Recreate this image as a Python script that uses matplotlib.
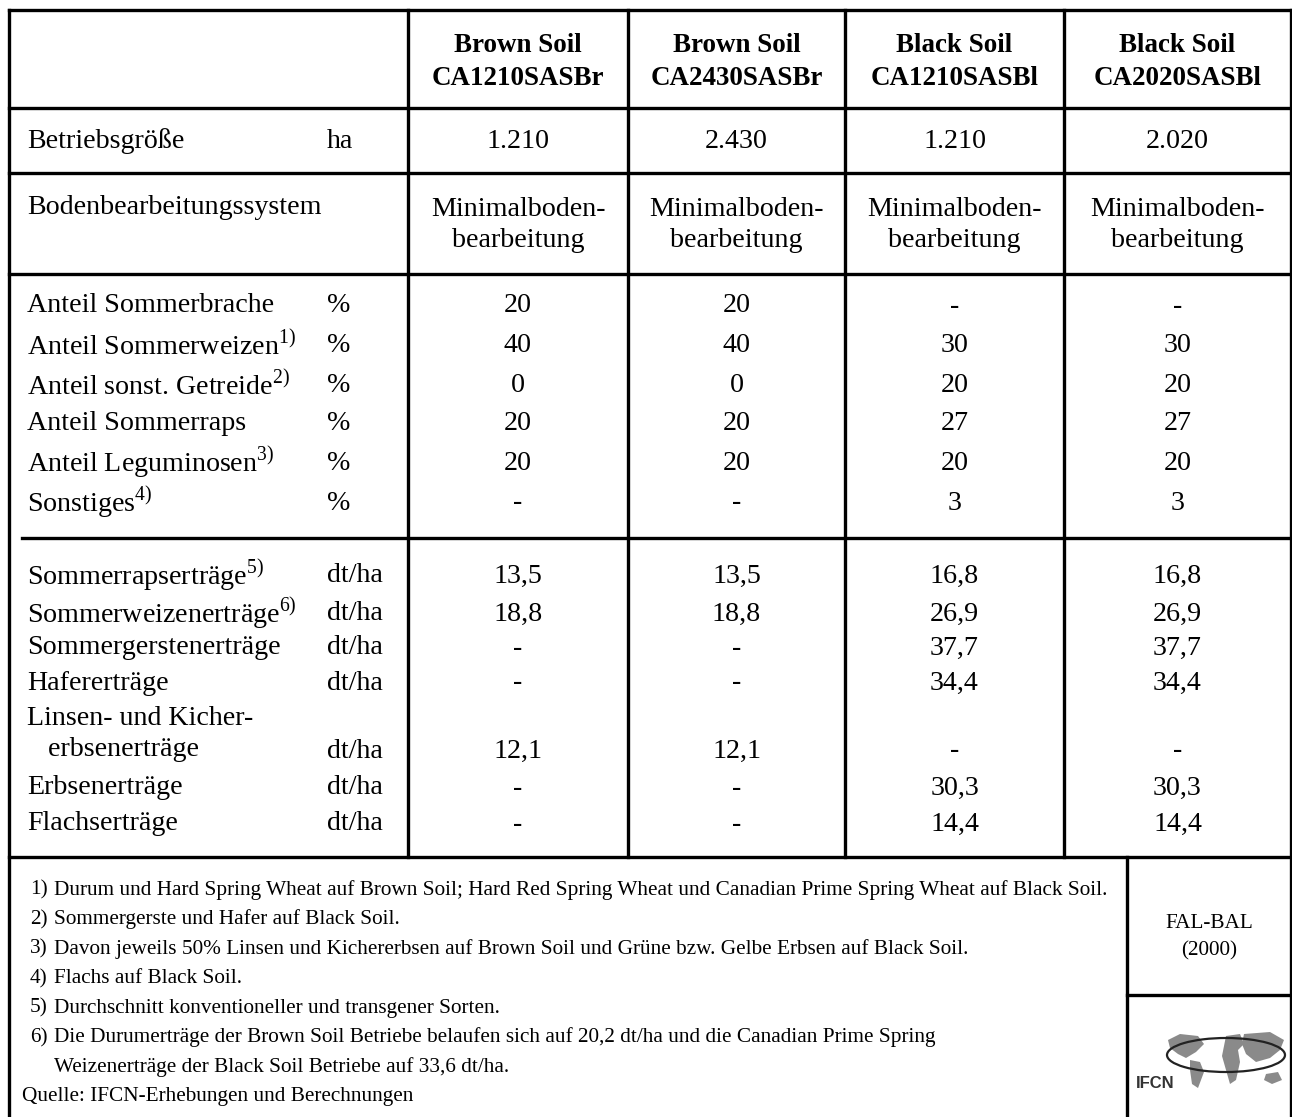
import matplotlib
matplotlib.use("Agg")
import matplotlib.pyplot as plt
from matplotlib.patches import Polygon, Arc

plt.rcParams['font.family'] = ['Liberation Serif', 'DejaVu Serif']
plt.rcParams['mathtext.fontset'] = 'custom'
plt.rcParams['mathtext.rm'] = 'Liberation Serif'

# === table content ===
col_heads = ["Brown Soil\nCA1210SASBr", "Brown Soil\nCA2430SASBr",
             "Black Soil\nCA1210SASBl", "Black Soil\nCA2020SASBl"]
groesse = ["1.210", "2.430", "1.210", "2.020"]
system = ["Minimalboden-\nbearbeitung"] * 4

share_labels = ["Anteil Sommerbrache", r"Anteil Sommerweizen$^{\mathrm{1)}}$",
                r"Anteil sonst. Getreide$^{\mathrm{2)}}$", "Anteil Sommerraps",
                r"Anteil Leguminosen$^{\mathrm{3)}}$", r"Sonstiges$^{\mathrm{4)}}$"]
share_values = [["20", "20", "-", "-"],
                ["40", "40", "30", "30"],
                ["0", "0", "20", "20"],
                ["20", "20", "27", "27"],
                ["20", "20", "20", "20"],
                ["-", "-", "3", "3"]]

yield_labels = [r"Sommerrapserträge$^{\mathrm{5)}}$", r"Sommerweizenerträge$^{\mathrm{6)}}$",
                "Sommergerstenerträge", "Hafererträge",
                "Linsen- und Kicher-\n   erbsenerträge", "Erbsenerträge", "Flachserträge"]
yield_values = [["13,5", "13,5", "16,8", "16,8"],
                ["18,8", "18,8", "26,9", "26,9"],
                ["-", "-", "37,7", "37,7"],
                ["-", "-", "34,4", "34,4"],
                ["12,1", "12,1", "-", "-"],
                ["-", "-", "30,3", "30,3"],
                ["-", "-", "14,4", "14,4"]]

notes = ["Durum und Hard Spring Wheat auf Brown Soil; Hard Red Spring Wheat und Canadian Prime Spring Wheat auf Black Soil.",
         "Sommergerste und Hafer auf Black Soil.",
         "Davon jeweils 50% Linsen und Kichererbsen auf Brown Soil und Grüne bzw. Gelbe Erbsen auf Black Soil.",
         "Flachs auf Black Soil.",
         "Durchschnitt konventioneller und transgener Sorten.",
         "Die Durumerträge der Brown Soil Betriebe belaufen sich auf 20,2 dt/ha und die Canadian Prime Spring\nWeizenerträge der Black Soil Betriebe auf 33,6 dt/ha."]
source = "Quelle: IFCN-Erhebungen und Berechnungen"
stamp = "FAL-BAL\n(2000)"

# === layout (pixel units) ===
W, H = 1292, 1117
fig = plt.figure(figsize=(W / 100, H / 100), dpi=100)
ax = fig.add_axes([0, 0, 1, 1])
ax.set_xlim(0, W)
ax.set_ylim(H, 0)
ax.axis("off")

fs = 28 * 0.72       # main text
fs_head = 27 * 0.72
fs_note = 21.3 * 0.72
lw = 2.4
col_x = [408, 628, 845, 1064, 1291]
col_c = [(col_x[i] + col_x[i + 1]) / 2 for i in range(4)]


def hline(y, x0, x1):
    ax.plot([x0, x1], [y, y], color="k", lw=lw, solid_capstyle="projecting")


def vline(x, y0, y1):
    ax.plot([x, x], [y0, y1], color="k", lw=lw, solid_capstyle="projecting")


# grid
hline(10, 9, W - 1)
hline(108, 9, W - 1)
hline(173, 9, W - 1)
hline(274, 9, W - 1)
hline(538, 22, W - 1)
hline(857, 9, W - 1)
hline(995, 1127, W - 1)
vline(9, 10, H)
vline(W - 1, 10, H)
for x in col_x[:-1]:
    vline(x, 10, 857)
vline(1127, 857, H)

# header
for i, h in enumerate(col_heads):
    ax.text(col_c[i], 62, h, ha="center", va="center", fontsize=fs_head,
            fontweight="bold", linespacing=1.45)

ax.text(27, 141, "Betriebsgröße", va="center", fontsize=fs)
ax.text(327, 141, "ha", va="center", fontsize=fs)
for i, v in enumerate(groesse):
    ax.text(col_c[i], 141, v, ha="center", va="center", fontsize=fs)

ax.text(27, 207, "Bodenbearbeitungssystem", va="center", fontsize=fs)
for i, v in enumerate(system):
    ax.text(col_c[i], 225, v, ha="center", va="center", fontsize=fs, linespacing=1.3)

share_y = [306, 346, 386, 423, 463, 503]
for j, lab in enumerate(share_labels):
    ax.text(27, share_y[j], lab, va="center", fontsize=fs)
    ax.text(327, share_y[j], "%", va="center", fontsize=fs)
    for i, v in enumerate(share_values[j]):
        ax.text(col_c[i], share_y[j], v, ha="center", va="center", fontsize=fs)

yield_y = [576, 614, 648, 683, 751, 788, 824]
for j, lab in enumerate(yield_labels):
    if "\n" in lab:
        ax.text(27, yield_y[j] - 17, lab, va="center", fontsize=fs, linespacing=1.3)
    else:
        ax.text(27, yield_y[j], lab, va="center", fontsize=fs)
    ax.text(327, yield_y[j], "dt/ha", va="center", fontsize=fs)
    for i, v in enumerate(yield_values[j]):
        ax.text(col_c[i], yield_y[j], v, ha="center", va="center", fontsize=fs)

# footnotes
note_y = 890
step = 29.5
for k, n in enumerate(notes):
    ax.text(30, note_y, f"{k + 1})", va="center", fontsize=fs_note)
    for line in n.split("\n"):
        ax.text(54, note_y, line, va="center", fontsize=fs_note)
        note_y += step
ax.text(22, note_y, source, va="center", fontsize=fs_note)

ax.text(1209, 937, stamp, ha="center", va="center", fontsize=fs_note, linespacing=1.6)

# IFCN logo (rough)
grey = "#8a8a8a"
shapes = [
    [(1168, 1040), (1180, 1034), (1198, 1036), (1204, 1044), (1196, 1052), (1186, 1058), (1178, 1054), (1170, 1048)],
    [(1190, 1060), (1200, 1062), (1204, 1072), (1198, 1088), (1192, 1084), (1190, 1070)],
    [(1226, 1036), (1240, 1034), (1244, 1044), (1238, 1050), (1240, 1062), (1236, 1080), (1230, 1084), (1226, 1070), (1222, 1056), (1224, 1046)],
    [(1244, 1034), (1270, 1032), (1284, 1040), (1280, 1050), (1270, 1058), (1256, 1062), (1246, 1054), (1242, 1044)],
    [(1266, 1074), (1278, 1072), (1282, 1080), (1272, 1084), (1264, 1080)],
]
for s in shapes:
    ax.add_patch(Polygon(s, closed=True, color=grey, lw=0))
ax.add_patch(Arc((1226, 1055), 118, 34, theta1=0, theta2=360, color="#222222", lw=1.6))
ax.text(1136, 1083, "IFCN", va="center", ha="left", fontsize=12,
        fontweight="bold", family=["Liberation Sans", "DejaVu Sans"], color="#333333")

fig.savefig("out.png", dpi=100)
